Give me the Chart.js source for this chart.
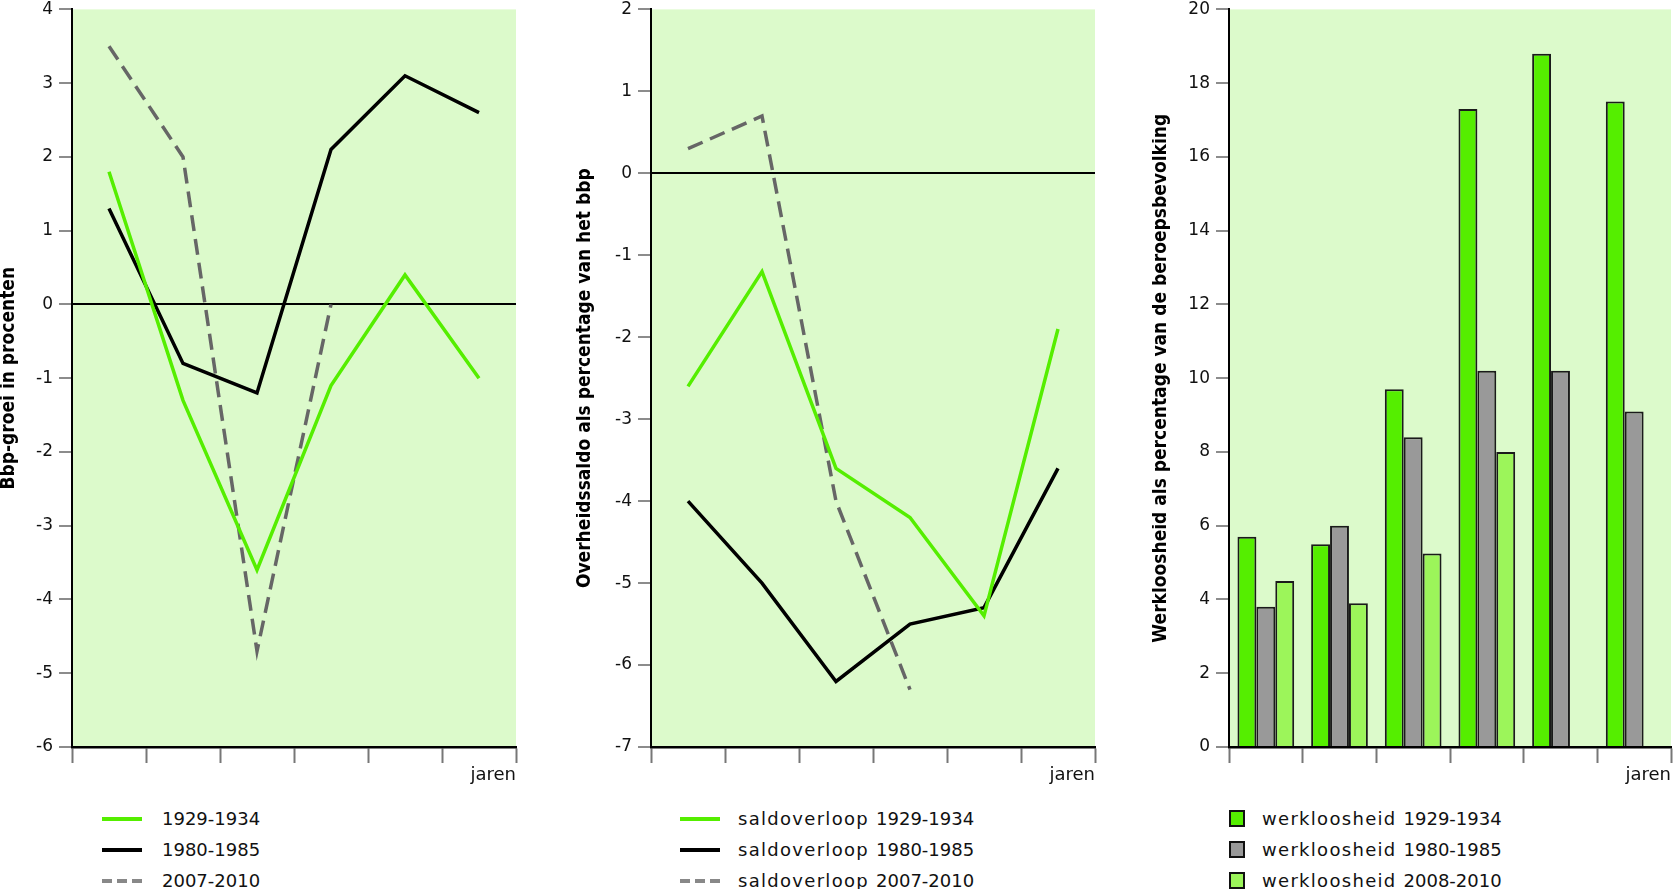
<!DOCTYPE html>
<html>
<head>
<meta charset="utf-8">
<script src="https://cdn.jsdelivr.net/npm/chart.js@4.4.1/dist/chart.umd.min.js"></script>
<style>
  html, body { margin: 0; padding: 0; background: #fff; }
  body { width: 1673px; height: 889px; position: relative; overflow: hidden; font-family: 'DejaVu Sans', sans-serif; }
  canvas { position: absolute; top: 0; }
  .legend { position: absolute; top: 803px; font-size: 18px; color: #111; }
  .legend .row { height: 31px; display: flex; align-items: center; white-space: pre; }
  .legend .sym { flex: none; box-sizing: border-box; }
  .legend .word { letter-spacing: 1.3px; }
</style>
</head>
<body>
<canvas id="chartBbp" width="530" height="790" style="left:0px"></canvas>
<canvas id="chartSaldo" width="529" height="790" style="left:576px"></canvas>
<canvas id="chartWerk" width="521" height="790" style="left:1152px"></canvas>
<div class="legend" id="legendBbp" style="left:102px"></div>
<div class="legend" id="legendSaldo" style="left:680px"></div>
<div class="legend" id="legendWerk" style="left:1229px"></div>

<script>
//DATA
const years = ['jaar 1', 'jaar 2', 'jaar 3', 'jaar 4', 'jaar 5', 'jaar 6'];

const bbpLabels = ['1929-1934', '1980-1985', '2007-2010'];
const bbp1929 = [1.8, -1.3, -3.6, -1.1, 0.4, -1.0];
const bbp1980 = [1.3, -0.8, -1.2, 2.1, 3.1, 2.6];
const bbp2007 = [3.5, 2.0, -4.7, 0.0];
const bbpRange = [-6, 4, 1];

const saldoLabels = ['saldoverloop 1929-1934', 'saldoverloop 1980-1985', 'saldoverloop 2007-2010'];
const saldo1929 = [-2.6, -1.2, -3.6, -4.2, -5.4, -1.9];
const saldo1980 = [-4.0, -5.0, -6.2, -5.5, -5.3, -3.6];
const saldo2007 = [0.3, 0.7, -4.0, -6.3];
const saldoRange = [-7, 2, 1];

const werkLabels = ['werkloosheid 1929-1934', 'werkloosheid 1980-1985', 'werkloosheid 2008-2010'];
const werk1929 = [5.7, 5.5, 9.7, 17.3, 18.8, 17.5];
const werk1980 = [3.8, 6.0, 8.4, 10.2, 10.2, 9.1];
const werk2008 = [4.5, 3.9, 5.25, 8.0, null, null];
const werkRange = [0, 20, 2];

const GREEN = '#55ee00';
const GREY_DASH = '#666666';
const GREY_BAR = '#999999';
const LIGHT_GREEN = '#9cf55a';

//PLOT BACKGROUND
const plotBackground = {
  id: 'plotBackground',
  beforeDraw(chart) {
    const { ctx, chartArea: a } = chart;
    ctx.save();
    ctx.fillStyle = '#dcfacb';
    ctx.fillRect(a.left, a.top, a.right - a.left, a.bottom - a.top);
    ctx.restore();
  }
};

//SCALES
function yScale(range, title, width) {
  return {
    min: range[0],
    max: range[1],
    ticks: {
      stepSize: range[2],
      padding: 6,
      color: '#111',
      // small lineHeight so the top label does not push the plot down
      font: { family: 'DejaVu Sans', size: 17, lineHeight: 0.4 }
    },
    grid: {
      color: c => (c.tick && c.tick.value === 0) ? '#000' : 'rgba(0,0,0,0)',
      lineWidth: 2,
      tickColor: '#666',
      tickWidth: 1.5,
      tickLength: 13
    },
    border: { color: '#000', width: 2 },
    title: {
      display: true,
      text: title,
      color: '#000',
      padding: 0,
      font: { family: 'DejaVu Sans Condensed', weight: 'bold', size: 19, lineHeight: 1 }
    },
    afterFit: s => { s.width = width; }
  };
}

function xScale() {
  return {
    offset: true,
    ticks: { display: false },
    grid: { offset: true, drawOnChartArea: false, tickLength: 16, tickColor: '#777', tickWidth: 2, color: '#777' },
    border: { color: '#000', width: 2.5 },
    title: {
      display: true,
      text: 'jaren',
      align: 'end',
      color: '#111',
      padding: { top: 0, bottom: 4 },
      font: { family: 'DejaVu Sans', size: 18 }
    },
    afterFit: s => { s.height = 43; }
  };
}

function baseOptions(range, title, yWidth, padRight) {
  return {
    responsive: false,
    animation: false,
    layout: { padding: { top: 8, right: padRight, bottom: 0, left: 0 } },
    plugins: { legend: { display: false }, tooltip: { enabled: false } },
    scales: { x: xScale(), y: yScale(range, title, yWidth) }
  };
}

function lineSet(label, data, color, dashed) {
  return {
    label: label,
    data: data,
    borderColor: color,
    borderWidth: 3.5,
    borderDash: dashed ? [16, 8] : [],
    pointRadius: 0,
    tension: 0,
    fill: false
  };
}

//BBP
new Chart(document.getElementById('chartBbp'), {
  type: 'line',
  data: {
    labels: years,
    datasets: [
      lineSet(bbpLabels[0], bbp1929, GREEN, false),
      lineSet(bbpLabels[1], bbp1980, '#000', false),
      lineSet(bbpLabels[2], bbp2007, GREY_DASH, true)
    ]
  },
  options: baseOptions(bbpRange, 'Bbp-groei in procenten', 72, 14),
  plugins: [plotBackground]
});

//SALDO
new Chart(document.getElementById('chartSaldo'), {
  type: 'line',
  data: {
    labels: years,
    datasets: [
      lineSet(saldoLabels[0], saldo1929, GREEN, false),
      lineSet(saldoLabels[1], saldo1980, '#000', false),
      lineSet(saldoLabels[2], saldo2007, GREY_DASH, true)
    ]
  },
  options: baseOptions(saldoRange, 'Overheidssaldo als percentage van het bbp', 75, 10),
  plugins: [plotBackground]
});

//WERKLOOSHEID
const werkColors = [GREEN, GREY_BAR, LIGHT_GREEN];
new Chart(document.getElementById('chartWerk'), {
  type: 'bar',
  data: {
    labels: years,
    datasets: [werk1929, werk1980, werk2008].map((d, i) => ({
      label: werkLabels[i],
      data: d,
      backgroundColor: werkColors[i],
      borderColor: '#1a1a1a',
      borderWidth: 2,
      categoryPercentage: 0.77,
      barPercentage: 1
    }))
  },
  options: baseOptions(werkRange, 'Werkloosheid als percentage van de beroepsbevolking', 77, 2),
  plugins: [plotBackground]
});

//LEGENDS
function lineSymbol(color, dashed) {
  const s = document.createElement('div');
  s.className = 'sym';
  s.style.width = '40px';
  s.style.height = '4px';
  s.style.background = dashed
    ? 'repeating-linear-gradient(to right, #888 0 10px, transparent 10px 15px)'
    : color;
  return s;
}

function boxSymbol(color) {
  const s = document.createElement('div');
  s.className = 'sym';
  s.style.width = '16px';
  s.style.height = '17px';
  s.style.background = color;
  s.style.border = '2px solid #111';
  return s;
}

function renderLegend(id, labels, symbols, gap) {
  const el = document.getElementById(id);
  labels.forEach((text, i) => {
    const row = document.createElement('div');
    row.className = 'row';
    row.appendChild(symbols[i]);
    const t = document.createElement('span');
    t.style.marginLeft = gap + 'px';
    // the word part is set a bit wider than the years, like the original font
    const cut = text.lastIndexOf(' ');
    if (cut > 0) {
      const w = document.createElement('span');
      w.className = 'word';
      w.textContent = text.slice(0, cut + 1);
      t.appendChild(w);
    }
    t.appendChild(document.createTextNode(text.slice(cut + 1)));
    row.appendChild(t);
    el.appendChild(row);
  });
}

renderLegend('legendBbp', bbpLabels, [lineSymbol(GREEN), lineSymbol('#000'), lineSymbol(GREY_DASH, true)], 20);
renderLegend('legendSaldo', saldoLabels, [lineSymbol(GREEN), lineSymbol('#000'), lineSymbol(GREY_DASH, true)], 18);
renderLegend('legendWerk', werkLabels, werkColors.map(boxSymbol), 17);
</script>
</body>
</html>
